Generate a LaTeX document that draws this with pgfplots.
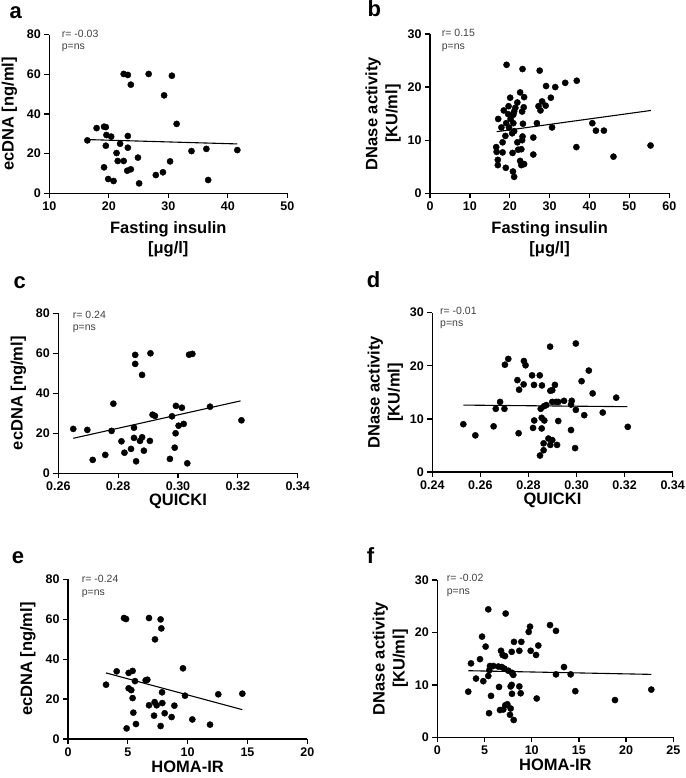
\documentclass[border=0pt]{standalone}
\usepackage{fontspec}
\setmainfont{Liberation Sans}
\usepackage{pgfplots}
\pgfplotsset{compat=1.18}

\pgfplotsset{
  panel/.style={
    scale only axis, anchor=south west, clip=false,
    axis lines=left, axis line style={-, line width=1.3pt},
    tick align=outside, major tick length=5pt,
    every tick/.style={black, line width=1.3pt},
    tick label style={font=\bfseries\fontsize{12.5}{14}\selectfont},
    /pgf/number format/assume math mode=true,
    xlabel style={font=\bfseries\fontsize{16.5}{20}\selectfont, align=center, anchor=center},
    ylabel style={font=\bfseries\fontsize{16.5}{20}\selectfont, align=center, anchor=center},
  },
  dots/.style={only marks, mark=*, mark size=3.1pt, black},
  regline/.style={black, line width=1.1pt},
  oneline x/.style={xlabel style={at={(axis description cs:0.5,0)}, yshift=-28pt}},
  twoline x/.style={xlabel style={at={(axis description cs:0.5,0)}, yshift=-46pt}},
  oneline y/.style={ylabel style={at={(axis description cs:0,0.5)}, yshift=40pt}},
  twoline y/.style={ylabel style={at={(axis description cs:0,0.5)}, yshift=47pt}},
}
\tikzset{ann/.style={anchor=base west, inner sep=0pt, text=black!75, font=\fontsize{10.5}{12}\selectfont}}

\begin{document}
\begin{tikzpicture}
\path[use as bounding box] (0,0) rectangle (685pt,778pt);

% a
\begin{axis}[panel, at={(49.3pt,584.7pt)}, width=238pt, height=158.6pt,
  xmin=10, xmax=50, ymin=0, ymax=80, xtick={10,20,30,40,50}, ytick={0,20,40,60,80},
  xlabel={Fasting insulin\\{[μg/l]}}, ylabel={ecDNA [ng/ml]}, twoline x, oneline y]
\addplot[dots] coordinates {
(16.4,26.7) (17.95,32.9) (19.2,33.6) (19.5,33.4) (19.6,29.4) (20.4,28.6) (19.5,24.0)
(19.2,13.1) (19.9,7.2) (20.8,6.2) (21.3,20.3) (21.5,16.3) (21.9,25.0) (22.5,16.3)
(22.5,60.2) (23.2,59.7) (23.7,54.8) (23.2,28.9) (23.2,23.0) (23.1,11.4) (23.7,12.1)
(24.9,18.0) (25.1,5.0) (26.7,60.2) (27.9,9.2) (29.1,10.6) (29.3,49.4) (30.6,59.3)
(30.3,16.1) (31.4,35.0) (33.9,21.3) (36.4,22.4) (36.7,6.7) (41.6,21.8)};
\addplot[regline] coordinates {(16.4,27.1) (41.6,24.9)};
\node[ann, xshift=12.4pt, yshift=-3pt] at (rel axis cs:0,1) {r= -0.03};
\node[ann, xshift=12.4pt, yshift=-15.3pt] at (rel axis cs:0,1) {p=ns};
\end{axis}

% b
\begin{axis}[panel, at={(430pt,584.7pt)}, width=239.3pt, height=159.3pt,
  xmin=0, xmax=60, ymin=0, ymax=30, xtick={0,10,...,60}, ytick={0,10,20,30},
  xlabel={Fasting insulin\\{[μg/l]}}, ylabel={DNase activity\\{[KU/ml]}}, twoline x, twoline y]
\addplot[dots] coordinates {
(19.2,24.2) (23.2,23.4) (27.5,23.1) (36.8,21.2) (33.9,20.8) (31.4,20.0) (29.1,20.2)
(22.6,19.0) (23.6,18.1) (30.3,18.0) (20.1,18.0) (28.1,17.3) (21.9,17.1) (19.7,16.4)
(21.4,16.1) (23.5,16.2) (29.0,16.5) (27.2,16.4) (18.5,15.6) (21.1,15.4) (23.1,15.4)
(27.7,15.6) (19.6,14.9) (20.9,14.8) (17.1,14.0) (20.2,14.0) (19.1,13.2) (20.9,13.2)
(23.3,13.1) (26.8,13.2) (40.7,13.2) (17.9,12.4) (19.8,12.4) (21.1,11.7) (30.6,12.4)
(41.6,11.8) (43.6,11.8) (18.9,10.8) (20.6,11.3) (23.2,10.7) (25.9,10.5) (18.2,9.6)
(21.9,9.6) (23.1,10.0) (16.6,8.7) (36.7,8.7) (16.7,7.8) (18.2,7.7) (20.7,7.6)
(22.1,8.2) (22.9,8.3) (25.9,7.3) (17.0,6.3) (22.6,6.1) (17.0,5.3) (19.0,4.8)
(22.9,5.3) (23.6,5.5) (20.8,4.1) (21.1,3.1) (55.3,9.0) (46.0,6.9)};
\addplot[regline] coordinates {(16.7,11.6) (55.4,15.6)};
\node[ann, xshift=11.7pt, yshift=-2.7pt] at (rel axis cs:0,1) {r= 0.15};
\node[ann, xshift=11.7pt, yshift=-15.3pt] at (rel axis cs:0,1) {p=ns};
\end{axis}

% c
\begin{axis}[panel, at={(58.3pt,304.7pt)}, width=239.4pt, height=160pt,
  xmin=0.26, xmax=0.34, ymin=0, ymax=80, xtick={0.26,0.28,0.30,0.32,0.34}, ytick={0,20,40,60,80},
  xticklabel style={/pgf/number format/.cd, fixed, fixed zerofill, precision=2},
  xlabel={QUICKI}, ylabel={ecDNA [ng/ml]}, oneline x, oneline y]
\addplot[dots] coordinates {
(0.2650,22.2) (0.2697,21.7) (0.2715,6.7) (0.2757,9.2) (0.2778,21.2) (0.2784,34.8)
(0.2811,16.0) (0.2821,10.3) (0.2843,12.2) (0.2853,22.8) (0.2853,17.7) (0.2857,59.2)
(0.2857,54.7) (0.2860,6.0) (0.2873,16.2) (0.2880,18.0) (0.2880,49.2) (0.2886,11.3)
(0.2906,16.2) (0.2908,60.0) (0.2915,29.3) (0.2923,28.7) (0.2973,7.2) (0.2980,28.5)
(0.2989,12.8) (0.2992,20.0) (0.2993,33.7) (0.3002,23.8) (0.3013,32.8) (0.3019,24.7)
(0.3031,5.0) (0.3037,59.3) (0.3048,59.7) (0.3107,33.3) (0.3212,26.5)};
\addplot[regline] coordinates {(0.2650,17.5) (0.3209,36.2)};
\node[ann, xshift=14.4pt, yshift=-5pt] at (rel axis cs:0,1) {r= 0.24};
\node[ann, xshift=14.4pt, yshift=-17.7pt] at (rel axis cs:0,1) {p=ns};
\end{axis}

% d
\begin{axis}[panel, at={(432.3pt,306pt)}, width=240.4pt, height=159.3pt,
  xmin=0.24, xmax=0.34, ymin=0, ymax=30, xtick={0.24,0.26,0.28,0.30,0.32,0.34}, ytick={0,10,20,30},
  xticklabel style={/pgf/number format/.cd, fixed, fixed zerofill, precision=2},
  xlabel={QUICKI}, ylabel={DNase activity\\{[KU/ml]}}, oneline x, twoline y]
\addplot[dots] coordinates {
(0.2890,23.6) (0.2997,24.2) (0.2716,21.3) (0.2702,20.2) (0.2781,20.9) (0.2788,20.1)
(0.2815,18.2) (0.2847,18.2) (0.2754,17.3) (0.2780,16.5) (0.2761,15.5) (0.2823,16.4)
(0.2856,16.3) (0.2910,16.4) (0.2899,15.4) (0.2891,15.3) (0.3021,17.1) (0.2682,13.2)
(0.2664,11.9) (0.2700,11.9) (0.2851,11.9) (0.2865,12.4) (0.2874,12.6) (0.2899,13.2)
(0.2915,13.2) (0.2924,13.2) (0.2948,13.4) (0.2980,13.4) (0.2977,12.7) (0.2997,11.7)
(0.3032,10.7) (0.2529,9.0) (0.2579,6.9) (0.2655,8.6) (0.2759,7.3) (0.2824,9.7)
(0.2819,8.3) (0.2855,10.2) (0.2866,9.7) (0.2855,8.2) (0.2924,9.6) (0.2977,7.9)
(0.2883,6.3) (0.2899,6.0) (0.2863,5.4) (0.2891,5.1) (0.2919,5.1) (0.2994,4.5)
(0.2863,4.1) (0.2848,3.1) (0.3051,19.1) (0.3067,14.8) (0.3165,14.0) (0.3109,11.2)
(0.3213,8.5)};
\addplot[regline] coordinates {(0.2529,12.6) (0.3211,12.3)};
\node[ann, xshift=7.7pt, yshift=-2.3pt] at (rel axis cs:0,1) {r= -0.01};
\node[ann, xshift=7.7pt, yshift=-14pt] at (rel axis cs:0,1) {p=ns};
\end{axis}

% e
\begin{axis}[panel, at={(68pt,39pt)}, width=239.3pt, height=159.7pt,
  xmin=0, xmax=20, ymin=0, ymax=80, xtick={0,5,10,15,20}, ytick={0,20,40,60,80},
  xlabel={HOMA-IR}, ylabel={ecDNA [ng/ml]}, oneline x, oneline y]
\addplot[dots] coordinates {
(3.18,27.2) (4.07,33.9) (4.68,60.6) (4.85,60.1) (5.07,33.1) (5.40,34.1) (5.07,25.4)
(5.29,24.5) (5.40,20.5) (5.46,13.2) (4.90,5.3) (5.68,7.5) (5.60,29.0) (6.49,29.4)
(6.63,29.7) (6.77,60.6) (6.77,16.9) (7.27,49.9) (7.19,11.7) (7.24,18.5) (7.41,16.9)
(7.74,59.9) (7.80,55.4) (7.86,23.4) (7.88,18.0) (7.74,6.5) (8.08,12.9) (8.66,11.0)
(8.89,16.7) (9.61,35.4) (9.78,21.7) (10.39,9.8) (11.87,7.2) (12.56,22.4) (14.57,22.7)};
\addplot[regline] coordinates {(3.18,33.1) (14.57,14.7)};
\node[ann, xshift=13.7pt, yshift=-3.4pt] at (rel axis cs:0,1) {r= -0.24};
\node[ann, xshift=13.7pt, yshift=-15.7pt] at (rel axis cs:0,1) {p=ns};
\end{axis}

% f
\begin{axis}[panel, at={(437.3pt,40.7pt)}, width=236pt, height=157.3pt,
  xmin=0, xmax=25, ymin=0, ymax=30, xtick={0,5,...,25}, ytick={0,10,20,30},
  xlabel={HOMA-IR}, ylabel={DNase activity\\{[KU/ml]}}, oneline x, twoline y]
\addplot[dots] coordinates {
(5.40,24.4) (7.24,23.6) (9.82,21.1) (9.68,20.1) (11.94,21.4) (12.57,20.3) (4.74,19.2)
(5.12,17.3) (8.12,18.2) (8.90,18.2) (10.70,17.5) (6.75,16.5) (6.92,15.7) (7.17,15.5)
(7.88,16.3) (8.69,16.5) (9.89,16.5) (10.46,15.7) (3.57,14.1) (4.52,14.9) (5.58,13.6)
(5.93,13.6) (6.46,13.5) (6.82,13.4) (7.10,13.1) (7.52,12.7) (7.91,12.3) (5.51,12.8)
(13.42,13.4) (12.57,12.0) (14.13,12.0) (8.05,11.9) (4.10,11.2) (4.87,10.7) (5.40,11.7)
(3.28,8.7) (5.69,7.9) (6.54,9.6) (7.77,9.7) (7.88,10.0) (8.69,9.7) (8.83,8.4)
(7.91,8.3) (10.53,7.4) (14.62,8.8) (5.48,4.6) (6.64,5.2) (6.99,5.3) (7.20,6.1)
(7.42,6.3) (7.77,5.5) (7.70,4.3) (8.09,3.3) (22.67,9.1) (18.82,7.1)};
\addplot[regline] coordinates {(3.28,12.7) (22.67,12.0)};
\node[ann, xshift=9.4pt, yshift=-1.7pt] at (rel axis cs:0,1) {r= -0.02};
\node[ann, xshift=9.4pt, yshift=-14pt] at (rel axis cs:0,1) {p=ns};
\end{axis}

% panel letters
\begin{scope}[every node/.style={anchor=base west, inner sep=0pt, font=\bfseries\fontsize{22}{24}\selectfont}]
\node at (9.3pt,759.7pt) {a};
\node at (367.3pt,761.3pt) {b};
\node at (13.3pt,489.7pt) {c};
\node at (366.7pt,490.7pt) {d};
\node at (11.7pt,214pt) {e};
\node at (366.7pt,214.7pt) {f};
\end{scope}
\end{tikzpicture}
\end{document}
